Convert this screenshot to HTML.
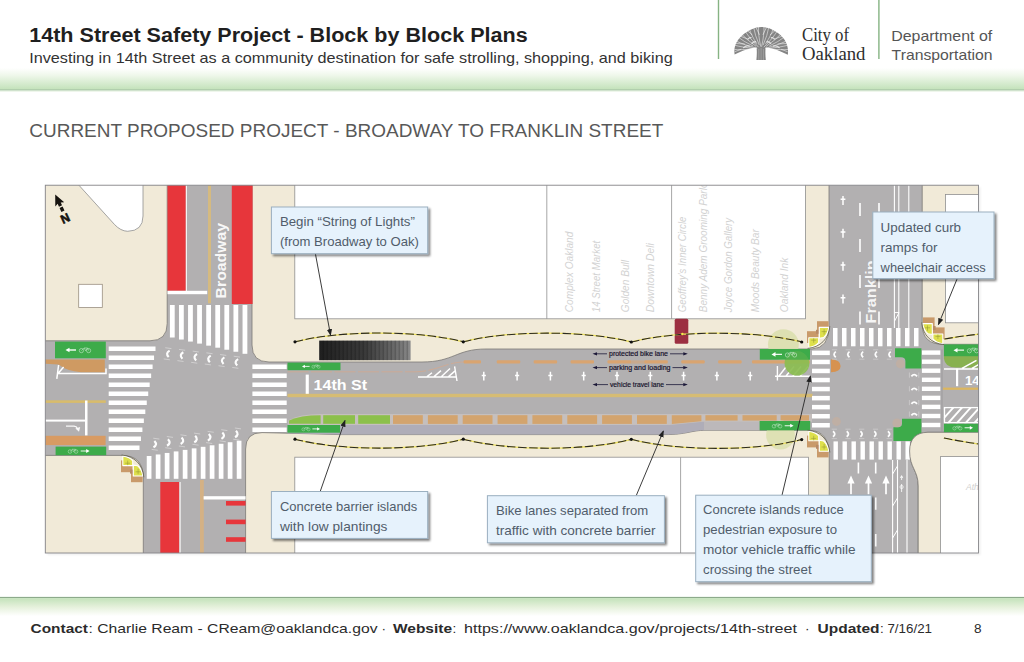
<!DOCTYPE html>
<html lang="en"><head><meta charset="utf-8"><title>14th Street Safety Project - Block by Block Plans</title>
<style>
html,body{margin:0;padding:0;background:#fff;}
body{width:1024px;height:662px;overflow:hidden;font-family:"Liberation Sans",sans-serif;}
svg{display:block;position:absolute;left:0;top:0;}
text{font-family:"Liberation Sans",sans-serif;}
.serif{font-family:"Liberation Serif",serif;}
.co{font-size:12.4px;fill:#515d6b;}
.bl{font-size:10.6px;font-style:italic;fill:#d2d2d2;}
.ll{font-size:6.7px;fill:#17132c;stroke:#17132c;stroke-width:0.18px;}
</style></head><body>
<svg width="1024" height="662" viewBox="0 0 1024 662">
<defs>
<linearGradient id="gTop" x1="0" y1="0" x2="0" y2="1"><stop offset="0" stop-color="#ffffff"/><stop offset="0.35" stop-color="#eef7ea"/><stop offset="1" stop-color="#c3e2ba"/></linearGradient>
<linearGradient id="gBot" x1="0" y1="0" x2="0" y2="1"><stop offset="0" stop-color="#c3e2ba"/><stop offset="0.5" stop-color="#e6f1dc"/><stop offset="1" stop-color="#ffffff"/></linearGradient>
<linearGradient id="gGrate" x1="0" y1="0" x2="1" y2="0"><stop offset="0" stop-color="#1f1f1f"/><stop offset="0.5" stop-color="#3a3a3a"/><stop offset="0.85" stop-color="#6e6e6e"/><stop offset="1" stop-color="#8a8a8a"/></linearGradient>
<filter id="sh" x="-10%" y="-10%" width="125%" height="135%"><feGaussianBlur in="SourceAlpha" stdDeviation="1.3"/><feOffset dx="2" dy="2"/><feComponentTransfer><feFuncA type="linear" slope="0.5"/></feComponentTransfer><feMerge><feMergeNode/><feMergeNode in="SourceGraphic"/></feMerge></filter>
<filter id="shm" x="-2%" y="-2%" width="104%" height="106%"><feGaussianBlur in="SourceAlpha" stdDeviation="1.2"/><feOffset dx="1.5" dy="1.5"/><feComponentTransfer><feFuncA type="linear" slope="0.07"/></feComponentTransfer><feMerge><feMergeNode/><feMergeNode in="SourceGraphic"/></feMerge></filter>
<marker id="ah" viewBox="0 0 10 10" refX="9" refY="5" markerWidth="7" markerHeight="7" orient="auto-start-reverse" markerUnits="userSpaceOnUse"><path d="M0,1.2 L10,5 L0,8.8 Z" fill="#222"/></marker>
<clipPath id="mapclip"><rect x="45.3" y="185.2" width="933.2" height="367.8"/></clipPath>
</defs>

<g id="header">
<rect x="0" y="68" width="1024" height="21.5" fill="url(#gTop)"/>
<rect x="0" y="89.3" width="1024" height="1.3" fill="#9dc099"/>
<rect x="0" y="90.6" width="1024" height="1" fill="#e4f1df"/>
<text x="29.2" y="42" font-size="20" font-weight="bold" fill="#1f1f1f" textLength="498.5" lengthAdjust="spacingAndGlyphs">14th Street Safety Project - Block by Block Plans</text>
<text x="29.2" y="62.5" font-size="14.6" fill="#333" textLength="643.5" lengthAdjust="spacingAndGlyphs">Investing in 14th Street as a community destination for safe strolling, shopping, and biking</text>
<rect x="717.8" y="0" width="1.4" height="59" fill="#86b383"/>
<rect x="878.2" y="0" width="1.4" height="59" fill="#86b383"/>
<text class="serif" x="802" y="41" font-size="18" fill="#2e2e2e" textLength="47" lengthAdjust="spacingAndGlyphs">City of</text>
<text class="serif" x="802" y="60" font-size="18" fill="#2e2e2e" textLength="63.5" lengthAdjust="spacingAndGlyphs">Oakland</text>
<text x="891.2" y="41" font-size="14.6" fill="#555" textLength="101" lengthAdjust="spacingAndGlyphs">Department of</text>
<text x="891.6" y="60" font-size="14.6" fill="#555" textLength="101" lengthAdjust="spacingAndGlyphs">Transportation</text>
<text x="29.3" y="137" font-size="18" fill="#585858" textLength="634" lengthAdjust="spacingAndGlyphs">CURRENT PROPOSED PROJECT - BROADWAY TO FRANKLIN STREET</text>
</g>
<g id="footer">
<rect x="0" y="596.2" width="1024" height="1" fill="#eef6ee"/>
<rect x="0" y="597" width="1024" height="1.1" fill="#8daa8b"/>
<rect x="0" y="598.1" width="1024" height="18" fill="url(#gBot)"/>
<text x="30.5" y="632.5" font-size="13.6" fill="#2b2b2b" font-weight="bold" textLength="57.5" lengthAdjust="spacingAndGlyphs">Contact</text>
<text x="88.5" y="632.5" font-size="13.6" fill="#2b2b2b" textLength="289" lengthAdjust="spacingAndGlyphs">: Charlie Ream - CReam@oaklandca.gov</text>
<text x="381.5" y="632.5" font-size="13.6" fill="#2b2b2b">·</text>
<text x="393" y="632.5" font-size="13.6" fill="#2b2b2b" font-weight="bold" textLength="59" lengthAdjust="spacingAndGlyphs">Website</text>
<text x="452.5" y="632.5" font-size="13.6" fill="#2b2b2b">:</text>
<text x="464" y="632.5" font-size="13.6" fill="#2b2b2b" textLength="333" lengthAdjust="spacingAndGlyphs">https://www.oaklandca.gov/projects/14th-street</text>
<text x="805" y="632.5" font-size="13.6" fill="#2b2b2b">·</text>
<text x="817.5" y="632.5" font-size="13.6" fill="#2b2b2b" font-weight="bold" textLength="62" lengthAdjust="spacingAndGlyphs">Updated</text>
<text x="880" y="632.5" font-size="13.6" fill="#2b2b2b" textLength="52" lengthAdjust="spacingAndGlyphs">: 7/16/21</text>
<text x="974" y="632.5" font-size="13.6" fill="#2b2b2b">8</text>
</g>
<g id="map">
<rect x="45.3" y="185.2" width="933.2" height="367.8" fill="#b2b0b1" filter="url(#shm)"/>
<g clip-path="url(#mapclip)">
<path d="M40,180 H167.2 V323.5 Q167.2,340.8 150,340.8 H40 Z" fill="#f1ead8" stroke="#7b7976" stroke-width="0.8"/>
<path d="M40,455.4 H122 Q143.3,455.4 143.3,478 V560 H40 Z" fill="#f1ead8" stroke="#7b7976" stroke-width="0.8"/>
<path d="M252,180 V345 Q252,362 269,362 H422 C454,362 456,349 486,349 H812 Q829,348 829,327 V180 Z" fill="#f1ead8" stroke="#7b7976" stroke-width="0.8"/>
<path d="M245.6,560 V449 Q245.6,432.6 262,432.6 L287,433.2 L340,434.6 H664 C688,434.6 690,430.3 706,430.3 H810 Q829.2,431 829.2,456 V560 Z" fill="#f1ead8" stroke="#7b7976" stroke-width="0.8"/>
<path d="M922.2,180 V325 Q922.5,344.3 943,344.3 H985 V180 Z" fill="#f1ead8" stroke="#7b7976" stroke-width="0.8"/>
<path d="M985,432.3 H928 C916,432.3 909.6,439 909.6,451 C909.6,468 918.2,470 918.2,486 V560 H985 Z" fill="#f1ead8" stroke="#7b7976" stroke-width="0.8"/>
<path d="M74.2,180 L114.6,224.6 Q120.6,231 127.6,231.3 Q143,231 143,216 V180 Z" fill="#ffffff" stroke="#8f8f8f" stroke-width="0.8"/>
<rect x="78.7" y="284.3" width="23.6" height="23.2" fill="#fff" stroke="#9a8f80" stroke-width="0.8"/>
<rect x="294.8" y="180" width="510.6" height="138.8" fill="#ffffff" stroke="#8f8f8f" stroke-width="0.8"/>
<path d="M546.8,185 V318.8 M671.6,185 V318.8" stroke="#8f8f8f" stroke-width="0.8" fill="none"/>
<rect x="294.8" y="457.2" width="513.6" height="110" fill="#ffffff" stroke="#8f8f8f" stroke-width="0.8"/>
<path d="M680.6,457.2 V553" stroke="#8f8f8f" stroke-width="0.8" fill="none"/>
<rect x="945.4" y="194.5" width="45" height="128.3" fill="#ffffff" stroke="#8f8f8f" stroke-width="0.8"/>
<rect x="940.4" y="456.6" width="45" height="110" fill="#ffffff" stroke="#8f8f8f" stroke-width="0.8"/>
<rect x="167.5" y="180" width="18.3" height="110.8" fill="#e7363b"/>
<rect x="231.8" y="180" width="20.8" height="124" fill="#e7363b"/>
<rect x="185.8" y="180" width="1.2" height="111" fill="#fff" opacity="0.85"/>
<rect x="167.5" y="290.8" width="39.7" height="3.4" fill="#fff"/>
<rect x="208" y="180" width="3" height="123.3" fill="#d5ba80"/>
<rect x="169.90" y="305" width="4.8" height="32.50" fill="#fff"/>
<rect x="178.98" y="305" width="4.8" height="34.54" fill="#fff"/>
<rect x="188.06" y="305" width="4.8" height="36.57" fill="#fff"/>
<rect x="197.14" y="305" width="4.8" height="38.61" fill="#fff"/>
<rect x="206.22" y="305" width="4.8" height="40.65" fill="#fff"/>
<rect x="215.30" y="305" width="4.8" height="42.69" fill="#fff"/>
<rect x="224.38" y="305" width="4.8" height="44.73" fill="#fff"/>
<rect x="233.46" y="305" width="4.8" height="46.76" fill="#fff"/>
<rect x="242.54" y="305" width="4.8" height="48.80" fill="#fff"/>
<rect x="108.7" y="346.50" width="46.80" height="4.5" fill="#fff"/>
<rect x="108.7" y="355.50" width="45.35" height="4.5" fill="#fff"/>
<rect x="108.7" y="364.50" width="43.89" height="4.5" fill="#fff"/>
<rect x="108.7" y="373.50" width="42.44" height="4.5" fill="#fff"/>
<rect x="108.7" y="382.50" width="40.98" height="4.5" fill="#fff"/>
<rect x="108.7" y="391.50" width="39.53" height="4.5" fill="#fff"/>
<rect x="108.7" y="400.50" width="38.07" height="4.5" fill="#fff"/>
<rect x="108.7" y="409.50" width="36.62" height="4.5" fill="#fff"/>
<rect x="108.7" y="418.50" width="35.16" height="4.5" fill="#fff"/>
<rect x="108.7" y="427.50" width="33.71" height="4.5" fill="#fff"/>
<rect x="108.7" y="436.50" width="32.25" height="4.5" fill="#fff"/>
<rect x="108.7" y="445.50" width="30.80" height="4.5" fill="#fff"/>
<rect x="252.4" y="364.50" width="34.3" height="4.5" fill="#fff"/>
<rect x="252.4" y="373.50" width="34.3" height="4.5" fill="#fff"/>
<rect x="252.4" y="382.50" width="34.3" height="4.5" fill="#fff"/>
<rect x="252.4" y="391.50" width="34.3" height="4.5" fill="#fff"/>
<rect x="252.4" y="400.50" width="34.3" height="4.5" fill="#fff"/>
<rect x="252.4" y="409.50" width="34.3" height="4.5" fill="#fff"/>
<rect x="252.4" y="418.50" width="34.3" height="4.5" fill="#fff"/>
<rect x="252.4" y="427.50" width="34.3" height="4.5" fill="#fff"/>
<rect x="146.75" y="456.00" width="4.7" height="22.80" fill="#fff"/>
<rect x="155.75" y="454.47" width="4.7" height="24.33" fill="#fff"/>
<rect x="164.75" y="452.94" width="4.7" height="25.86" fill="#fff"/>
<rect x="173.75" y="451.41" width="4.7" height="27.39" fill="#fff"/>
<rect x="182.75" y="449.88" width="4.7" height="28.92" fill="#fff"/>
<rect x="191.75" y="448.35" width="4.7" height="30.45" fill="#fff"/>
<rect x="200.75" y="446.82" width="4.7" height="31.98" fill="#fff"/>
<rect x="209.75" y="445.29" width="4.7" height="33.51" fill="#fff"/>
<rect x="218.75" y="443.76" width="4.7" height="35.04" fill="#fff"/>
<rect x="227.75" y="442.23" width="4.7" height="36.57" fill="#fff"/>
<rect x="236.75" y="440.70" width="4.7" height="38.10" fill="#fff"/>
<rect x="160.3" y="482" width="19" height="80" fill="#e7363b"/>
<rect x="179.4" y="482" width="1.3" height="80" fill="#fff" opacity="0.85"/>
<rect x="200" y="480" width="3.8" height="80" fill="#d4b184"/>
<rect x="203.6" y="496.2" width="42" height="3.3" fill="#fff"/>
<rect x="226" y="501" width="19.6" height="4.6" fill="#e7363b"/>
<rect x="226" y="519.6" width="19.6" height="4.6" fill="#e7363b"/>
<rect x="226" y="537.2" width="19.6" height="4.6" fill="#e7363b"/>
<rect x="55" y="341.6" width="50.8" height="16.7" fill="#3dab4a"/>
<path d="M45,359.6 H104.8 V372.2 H81 Q67,371.4 58.6,364.6 L45,363.8 Z" fill="#cf9a62"/>
<path d="M58.6,365 L56.8,378.8 M57.4,374.2 L63.6,367 M57.4,373.6 H106 V368.6" stroke="#fff" stroke-width="1.5" fill="none"/>
<rect x="45" y="400.3" width="60.8" height="2.6" fill="#d8bc6c"/>
<rect x="85" y="400.5" width="2.5" height="35" fill="#fff"/>
<rect x="45" y="419.6" width="41" height="2" fill="#fff"/>
<path d="M66,426.2 H74 Q76.6,426.4 77.4,428.4" stroke="#fff" stroke-width="1.3" fill="none" opacity="0.9"/><path d="M75.4,428.4 L79,431.8 L80.2,427 Z" fill="#fff" opacity="0.9"/>
<rect x="45" y="435.8" width="60.6" height="9.3" fill="#d89b63"/>
<rect x="55.6" y="446.6" width="50.6" height="8.6" fill="#3dab4a"/>
<path d="M287.5,424.6 H672 L704,421.4 V430.3 C690,430.3 688,434.6 664,434.6 H340 L287.5,433.2 Z" fill="#afadb8"/>
<rect x="704" y="421.4" width="56" height="8.9" fill="#bcb8ba"/>
<rect x="319.2" y="340.6" width="91.4" height="19.6" fill="url(#gGrate)"/>
<path d="M323.2,340.6 V360.2 M327.2,340.6 V360.2 M331.2,340.6 V360.2 M335.2,340.6 V360.2 M339.2,340.6 V360.2 M343.2,340.6 V360.2 M347.2,340.6 V360.2 M351.2,340.6 V360.2 M355.2,340.6 V360.2 M359.2,340.6 V360.2 M363.2,340.6 V360.2 M367.2,340.6 V360.2 M371.2,340.6 V360.2 M375.2,340.6 V360.2 M379.2,340.6 V360.2 M383.2,340.6 V360.2 M387.2,340.6 V360.2 M391.2,340.6 V360.2 M395.2,340.6 V360.2 M399.2,340.6 V360.2 M403.2,340.6 V360.2 M407.2,340.6 V360.2" stroke="#000" stroke-opacity="0.35" stroke-width="0.7" fill="none"/>
<rect x="287.5" y="362.6" width="53" height="7.6" fill="#3dab4a"/>
<rect x="287.5" y="425" width="52.6" height="7.7" fill="#3dab4a"/>
<path d="M287.5,371.8 H416 C436,371.4 446,362.2 464,362" stroke="#d3a98f" stroke-opacity="0.8" stroke-width="1" stroke-dasharray="21 2.5" fill="none"/>
<rect x="305.7" y="374.6" width="3.1" height="19.8" fill="#fff"/>
<text x="313.6" y="389.9" font-size="14.2" font-weight="bold" fill="#fff" textLength="53.5" lengthAdjust="spacingAndGlyphs">14th St</text>
<rect x="287.5" y="393.8" width="525" height="3.4" fill="#d6bc74"/>
<path d="M288.2,425 V420.4 Q300,414 320,414 H702 V414 H812 V421.8 H703 L670,425 Z" fill="#c5bfbd"/>
<path d="M289,423.8 V420.5 Q300,415.2 320.6,415.2 V423.8 Z" fill="#8cc04b" />
<rect x="323.2" y="415.2" width="31.8" height="8.6" fill="#8cc04b" />
<rect x="358.2" y="415.2" width="31.8" height="8.6" fill="#8cc04b" />
<rect x="393.0" y="415.2" width="29.8" height="8.7" fill="#d3a46e" />
<rect x="427.9" y="415.2" width="29.8" height="8.7" fill="#d3a46e" />
<rect x="462.7" y="415.2" width="29.8" height="8.7" fill="#d3a46e" />
<rect x="497.6" y="415.2" width="29.8" height="8.7" fill="#d3a46e" />
<rect x="532.4" y="415.2" width="29.8" height="8.7" fill="#d3a46e" />
<rect x="567.3" y="415.2" width="29.8" height="8.7" fill="#d3a46e" />
<rect x="602.1" y="415.2" width="29.8" height="8.7" fill="#d3a46e" />
<rect x="637.0" y="415.2" width="29.8" height="8.7" fill="#d3a46e" />
<path d="M671.8,415.2 H701.4 V421.2 L671.8,423.9 Z" fill="#d3a46e" />
<rect x="705.4" y="415.2" width="32.2" height="5.4" fill="#d3a46e" />
<rect x="742.5" y="415.2" width="34.2" height="5.4" fill="#d3a46e" />
<rect x="780.6" y="415.2" width="28.4" height="5.4" fill="#d3a46e" />
<rect x="463.6" y="360.2" width="17.4" height="3.2" rx="1" fill="#d9a470"/>
<rect x="496.8" y="360.2" width="23.4" height="3.2" rx="1" fill="#d9a470"/>
<rect x="533.7" y="360.2" width="23.4" height="3.2" rx="1" fill="#d9a470"/>
<rect x="570.6" y="360.2" width="23.4" height="3.2" rx="1" fill="#d9a470"/>
<rect x="607.5" y="360.2" width="23.4" height="3.2" rx="1" fill="#d9a470"/>
<rect x="644.4" y="360.2" width="23.4" height="3.2" rx="1" fill="#d9a470"/>
<rect x="681.3" y="360.2" width="23.4" height="3.2" rx="1" fill="#d9a470"/>
<rect x="718.2" y="360.2" width="23.4" height="3.2" rx="1" fill="#d9a470"/>
<rect x="752" y="360.2" width="58" height="3.2" rx="1" fill="#d9a470"/>
<rect x="630" y="360.4" width="15" height="3.2" fill="#d9a470" opacity="0.55"/>
<path d="M483.8,371.8 V380.6 M481.7,375.6 H485.9 M517.1,371.8 V380.6 M515.0,375.6 H519.2 M550.4,371.8 V380.6 M548.3,375.6 H552.5 M583.7,371.8 V380.6 M581.6,375.6 H585.8 M617.0,371.8 V380.6 M614.9,375.6 H619.1 M650.3,371.8 V380.6 M648.2,375.6 H652.4 M683.6,371.8 V380.6 M681.5,375.6 H685.7 M716.9,371.8 V380.6 M714.8,375.6 H719.0 M750.2,371.8 V380.6 M748.1,375.6 H752.3" stroke="#fff" stroke-width="1.5" fill="none"/>
<path d="M418,377 H456.4 M454.6,366.4 L457,381 M427,376.6 L432,372.8 M434,376.6 L441,370.6 M441.5,376.6 L450,368.6 M448.5,376.6 L455.4,370.6" stroke="#fff" stroke-width="1.4" fill="none"/>
<rect x="674.7" y="318.8" width="13.6" height="25" rx="1.5" fill="#9c2f41"/>
<path d="M596.5,353.8 H607 M670,353.8 H683.8" stroke="#1c1838" stroke-width="0.8" fill="none"/>
<path d="M592.5,353.8 l4.5,-1.6 v3.2 Z M687.8,353.8 l-4.5,-1.6 v3.2 Z" fill="#1c1838"/>
<text class="ll" x="609" y="356.0" textLength="59" lengthAdjust="spacingAndGlyphs">protected bike lane</text>
<path d="M596.5,367.6 H607 M672.5,367.6 H683.8" stroke="#1c1838" stroke-width="0.8" fill="none"/>
<path d="M592.5,367.6 l4.5,-1.6 v3.2 Z M687.8,367.6 l-4.5,-1.6 v3.2 Z" fill="#1c1838"/>
<text class="ll" x="609" y="369.8" textLength="61.5" lengthAdjust="spacingAndGlyphs">parking and loading</text>
<path d="M596.5,384.6 H608 M666,384.6 H683.8" stroke="#1c1838" stroke-width="0.8" fill="none"/>
<path d="M592.5,384.6 l4.5,-1.6 v3.2 Z M687.8,384.6 l-4.5,-1.6 v3.2 Z" fill="#1c1838"/>
<text class="ll" x="610" y="386.8" textLength="54" lengthAdjust="spacingAndGlyphs">vehicle travel lane</text>
<circle cx="783.4" cy="344.6" r="15.4" fill="#dadfae" opacity="0.9"/>
<circle cx="780.5" cy="435" r="14.4" fill="#dadfae" opacity="0.85"/>
<rect x="759.6" y="421" width="50.6" height="9.3" fill="#3dab4a"/>
<path d="M777.4,366 V380.6 M775,376.2 H810 M779,376 L786,367 M786,376 L794,366.5 M793,376 L801,366.5 M800,376 L808,366.5" stroke="#fff" stroke-width="1.4" fill="none"/>
<circle cx="797" cy="363.2" r="12.4" fill="#8bbd50" opacity="0.92"/>
<rect x="759.8" y="349" width="50.2" height="10.7" fill="#3dab4a"/>
<path d="M785.2,359.7 A12.4,12.4 0 0 1 808.8,359.7 Z" fill="#8bbd50" opacity="0.25"/>
<rect x="833.0" y="328" width="4.5" height="18.3" fill="#fff"/>
<rect x="842.0" y="328" width="4.5" height="18.3" fill="#fff"/>
<rect x="851.0" y="328" width="4.5" height="18.3" fill="#fff"/>
<rect x="860.0" y="328" width="4.5" height="18.3" fill="#fff"/>
<rect x="869.0" y="328" width="4.5" height="18.3" fill="#fff"/>
<rect x="878.0" y="328" width="4.5" height="18.3" fill="#fff"/>
<rect x="887.0" y="328" width="4.5" height="18.3" fill="#fff"/>
<rect x="896.0" y="328" width="4.5" height="18.3" fill="#fff"/>
<rect x="905.0" y="328" width="4.5" height="18.3" fill="#fff"/>
<rect x="914.0" y="328" width="4.5" height="18.3" fill="#fff"/>
<rect x="833.5" y="441.4" width="4.4" height="18.2" fill="#fff"/>
<rect x="842.5" y="441.4" width="4.4" height="18.2" fill="#fff"/>
<rect x="851.5" y="441.4" width="4.4" height="18.2" fill="#fff"/>
<rect x="860.5" y="441.4" width="4.4" height="18.2" fill="#fff"/>
<rect x="869.5" y="441.4" width="4.4" height="18.2" fill="#fff"/>
<rect x="878.5" y="441.4" width="4.4" height="18.2" fill="#fff"/>
<rect x="887.5" y="441.4" width="4.4" height="18.2" fill="#fff"/>
<rect x="896.5" y="441.4" width="4.4" height="18.2" fill="#fff"/>
<rect x="905.5" y="441.4" width="4.4" height="18.2" fill="#fff"/>
<rect x="812" y="350.6" width="17.8" height="4.5" fill="#fff"/>
<rect x="921.9" y="350.4" width="18.4" height="4.4" fill="#fff"/>
<rect x="812" y="359.7" width="17.8" height="4.5" fill="#fff"/>
<rect x="921.9" y="359.5" width="18.4" height="4.4" fill="#fff"/>
<rect x="812" y="368.7" width="17.8" height="4.5" fill="#fff"/>
<rect x="921.9" y="368.5" width="18.4" height="4.4" fill="#fff"/>
<rect x="812" y="377.8" width="17.8" height="4.5" fill="#fff"/>
<rect x="921.9" y="377.6" width="18.4" height="4.4" fill="#fff"/>
<rect x="812" y="386.8" width="17.8" height="4.5" fill="#fff"/>
<rect x="921.9" y="386.6" width="18.4" height="4.4" fill="#fff"/>
<rect x="812" y="395.9" width="17.8" height="4.5" fill="#fff"/>
<rect x="921.9" y="395.7" width="18.4" height="4.4" fill="#fff"/>
<rect x="812" y="404.9" width="17.8" height="4.5" fill="#fff"/>
<rect x="921.9" y="404.7" width="18.4" height="4.4" fill="#fff"/>
<rect x="812" y="414.0" width="17.8" height="4.5" fill="#fff"/>
<rect x="921.9" y="413.8" width="18.4" height="4.4" fill="#fff"/>
<rect x="812" y="423.0" width="17.8" height="4.5" fill="#fff"/>
<rect x="921.9" y="422.8" width="18.4" height="4.4" fill="#fff"/>
<path d="M895,348.2 H921.4 V368.6 H905.4 V361 Q905.4,357.2 901,357.2 H895 Z" fill="#3dab4a"/>
<path d="M902,418.8 H921.4 V441 H893.4 V427.2 H898 Q902,427.2 902,423.4 Z" fill="#3dab4a"/>
<path d="M985,432.3 H928 C916,432.3 909.6,439 909.6,451 C909.6,468 918.2,470 918.2,486 V560 H985 Z" fill="#f1ead8" stroke="#7b7976" stroke-width="0.8"/>
<rect x="940.4" y="456.6" width="45" height="110" fill="#ffffff" stroke="#8f8f8f" stroke-width="0.8"/>
<path d="M942,349.5 V432" stroke="#9b999b" stroke-width="1" fill="none"/>
<path d="M831,359.2 Q840.6,360 840.6,366 Q840.6,371.8 831,372.2 Z" fill="#d98f48" opacity="0.92"/>
<circle cx="900.5" cy="363.8" r="4.6" fill="#dcae8c" opacity="0.33"/>
<circle cx="836.5" cy="421.5" r="4.4" fill="#dcae8c" opacity="0.33"/>
<circle cx="897" cy="423" r="4.6" fill="#dcae8c" opacity="0.33"/>
<path d="M843,196.0 V205.0 M840.6,199.3 H845.4 M843,228.8 V237.8 M840.6,232.10000000000002 H845.4 M843,261.7 V270.7 M840.6,265.0 H845.4 M843,294.5 V303.5 M840.6,297.8 H845.4" stroke="#fff" stroke-width="1.5" fill="none"/>
<path d="M860,203 V216 M879,203 V216 M860,239 V252 M879,239 V252 M860,275 V288 M879,275 V288 M860,311.5 V324.5 M879,311.5 V324.5" stroke="#fff" stroke-width="1.6" fill="none"/>
<path d="M894.4,185 V328 M898.8,185 V328 M908.8,185 V328" stroke="#fff" stroke-width="1.1" fill="none"/>
<path d="M894.6,312.6 H899 L894.6,321" stroke="#fff" stroke-width="1" fill="none"/>
<text transform="translate(876.4,323.4) rotate(-90)" font-size="14.6" font-weight="bold" fill="#fff" fill-opacity="0.88" textLength="63" lengthAdjust="spacingAndGlyphs">Franklin</text>
<path d="M892.6,460 V553 M897.5,460 V553 M907,460 V553" stroke="#fff" stroke-width="1.1" fill="none"/>
<path d="M897.5,466 L892.6,474 M897.5,498 L892.6,506 M897.5,530 L892.6,538" stroke="#fff" stroke-width="1" fill="none"/>
<path d="M858.4,462.6 V473.5 M875.7,462.6 V473.5 M875.7,497.6 V509.8 M875.7,534 V546.4" stroke="#fff" stroke-width="1.6" fill="none"/>
<path d="M851,494.2 V481" stroke="#fff" stroke-width="1.7" fill="none"/><path d="M847.4,483.6 L851,475.6 L854.6,483.6 Z" fill="#fff"/>
<path d="M868.5,494.2 V481" stroke="#fff" stroke-width="1.7" fill="none"/><path d="M864.9,483.6 L868.5,475.6 L872.1,483.6 Z" fill="#fff"/>
<path d="M886,494.2 V481" stroke="#fff" stroke-width="1.7" fill="none"/><path d="M882.4,483.6 L886,475.6 L889.6,483.6 Z" fill="#fff"/>
<path d="M901.6,476 V480 M900.4,478 L901.6,475.6 L902.8,478 M901.6,484 V492" stroke="#fff" stroke-width="0.9" fill="none" opacity="0.9"/><circle cx="901.6" cy="487" r="1.6" fill="none" stroke="#fff" stroke-width="0.7"/>
<path d="M943.9,355 V358.5 Q945,367.6 956,367.6 H983 V355 Z" fill="#88b150"/>
<rect x="943.9" y="344.4" width="40" height="11.8" fill="#3dab4a"/>
<path d="M944,369 H983 M962,368.4 L976.5,360.4 M972,368.4 L984,361.6" stroke="#fff" stroke-width="1.6" fill="none"/>
<rect x="956" y="368.6" width="2.2" height="17.6" fill="#fff"/>
<text x="965" y="385.4" font-size="13.2" font-weight="bold" fill="#fff">14th</text>
<rect x="943" y="387.6" width="40" height="2.2" fill="#dcb65e"/>
<clipPath id="hb"><rect x="943.9" y="407" width="40" height="16.2"/></clipPath>
<path d="M930.0,424 L946.0,406 M938.7,424 L954.7,406 M947.4,424 L963.4,406 M956.1,424 L972.1,406 M964.8,424 L980.8,406 M973.5,424 L989.5,406 M982.2,424 L998.2,406 M990.9,424 L1006.9,406" stroke="#fff" stroke-width="1.9" fill="none" clip-path="url(#hb)"/>
<rect x="944.5" y="407.6" width="40" height="15" fill="none" stroke="#fff" stroke-width="1.3"/>
<rect x="943.9" y="423.8" width="40" height="8.4" fill="#3dab4a"/>
<g transform="translate(829.6,348.2) scale(-1,-1)">
<rect x="11" y="5.2" width="11.6" height="11.8" fill="#c99a6a"/>
<rect x="1" y="15.6" width="11.6" height="11.4" fill="#c99a6a"/>
<rect x="9.6" y="14.4" width="4" height="4" fill="#b78a66"/>
<path d="M20.8,0.7 V10.4 H10.9 V5.6 Q13.6,2 20.8,0.7 Z" fill="#dee04c" stroke="#fff" stroke-width="1.1" stroke-linejoin="round"/>
<path d="M0.7,20.8 H10.3 V9.9 L6,10.6 Q2,13.6 0.7,20.8 Z" fill="#dee04c" stroke="#fff" stroke-width="1.1" stroke-linejoin="round"/>
<path d="M13.4,8 H18.4 M15.9,5.4 V10 M3,16.6 H8 M5.5,13.6 V19" stroke="#8d9330" stroke-width="0.5" fill="none"/>
<path d="M-0.2,22 C0.6,9.4 9.4,0.8 22,-0.2" stroke="#5e5c4c" stroke-width="0.8" fill="none"/>
</g>
<g transform="translate(829.6,430.4) scale(-1,1)">
<rect x="11" y="5.2" width="11.6" height="11.8" fill="#c99a6a"/>
<rect x="1" y="15.6" width="11.6" height="11.4" fill="#c99a6a"/>
<rect x="9.6" y="14.4" width="4" height="4" fill="#b78a66"/>
<path d="M20.8,0.7 V10.4 H10.9 V5.6 Q13.6,2 20.8,0.7 Z" fill="#dee04c" stroke="#fff" stroke-width="1.1" stroke-linejoin="round"/>
<path d="M0.7,20.8 H10.3 V9.9 L6,10.6 Q2,13.6 0.7,20.8 Z" fill="#dee04c" stroke="#fff" stroke-width="1.1" stroke-linejoin="round"/>
<path d="M13.4,8 H18.4 M15.9,5.4 V10 M3,16.6 H8 M5.5,13.6 V19" stroke="#8d9330" stroke-width="0.5" fill="none"/>
<path d="M-0.2,22 C0.6,9.4 9.4,0.8 22,-0.2" stroke="#5e5c4c" stroke-width="0.8" fill="none"/>
</g>
<g transform="translate(922,344.4) scale(1,-1)">
<rect x="11" y="5.2" width="11.6" height="11.8" fill="#c99a6a"/>
<rect x="1" y="15.6" width="11.6" height="11.4" fill="#c99a6a"/>
<rect x="9.6" y="14.4" width="4" height="4" fill="#b78a66"/>
<path d="M20.8,0.7 V10.4 H10.9 V5.6 Q13.6,2 20.8,0.7 Z" fill="#dee04c" stroke="#fff" stroke-width="1.1" stroke-linejoin="round"/>
<path d="M0.7,20.8 H10.3 V9.9 L6,10.6 Q2,13.6 0.7,20.8 Z" fill="#dee04c" stroke="#fff" stroke-width="1.1" stroke-linejoin="round"/>
<path d="M13.4,8 H18.4 M15.9,5.4 V10 M3,16.6 H8 M5.5,13.6 V19" stroke="#8d9330" stroke-width="0.5" fill="none"/>
<path d="M-0.2,22 C0.6,9.4 9.4,0.8 22,-0.2" stroke="#5e5c4c" stroke-width="0.8" fill="none"/>
</g>
<g transform="translate(143.6,455.2) scale(-1,1)">
<rect x="11" y="5.2" width="11.6" height="11.8" fill="#c99a6a"/>
<rect x="1" y="15.6" width="11.6" height="11.4" fill="#c99a6a"/>
<rect x="9.6" y="14.4" width="4" height="4" fill="#b78a66"/>
<path d="M20.8,0.7 V10.4 H10.9 V5.6 Q13.6,2 20.8,0.7 Z" fill="#dee04c" stroke="#fff" stroke-width="1.1" stroke-linejoin="round"/>
<path d="M0.7,20.8 H10.3 V9.9 L6,10.6 Q2,13.6 0.7,20.8 Z" fill="#dee04c" stroke="#fff" stroke-width="1.1" stroke-linejoin="round"/>
<path d="M13.4,8 H18.4 M15.9,5.4 V10 M3,16.6 H8 M5.5,13.6 V19" stroke="#8d9330" stroke-width="0.5" fill="none"/>
<path d="M-0.2,22 C0.6,9.4 9.4,0.8 22,-0.2" stroke="#5e5c4c" stroke-width="0.8" fill="none"/>
</g>
<path d="M76.0,350.0 H68.0" stroke="#fff" stroke-width="1.30" fill="none" opacity="0.9"/><path d="M65.5,350.0 l4.0,-2.3 v4.6 Z" fill="#fff"/>
<g stroke="#fff" stroke-width="0.70" fill="none" opacity="0.62"><circle cx="81.4" cy="350.6" r="2.1"/><circle cx="88.6" cy="350.6" r="2.1"/><path d="M81.4,350.6 L84.2,348.0 H87.6 L88.6,350.6 M84.2,348.0 L85.6,350.8 L87.6,348.0"/></g>
<path d="M80.7,451.0 H87.5" stroke="#fff" stroke-width="1.10" fill="none" opacity="0.9"/><path d="M89.6,451.0 l-3.4,-2.0 v3.9 Z" fill="#fff"/>
<g stroke="#fff" stroke-width="0.59" fill="none" opacity="0.62"><circle cx="70.0" cy="451.5" r="1.8"/><circle cx="76.1" cy="451.5" r="1.8"/><path d="M70.0,451.5 L72.4,449.3 H75.3 L76.1,451.5 M72.4,449.3 L73.6,451.7 L75.3,449.3"/></g>
<path d="M309.6,366.4 H303.8" stroke="#fff" stroke-width="0.94" fill="none" opacity="0.9"/><path d="M302.0,366.4 l2.9,-1.7 v3.3 Z" fill="#fff"/>
<g stroke="#fff" stroke-width="0.50" fill="none" opacity="0.62"><circle cx="313.4" cy="366.8" r="1.5"/><circle cx="318.6" cy="366.8" r="1.5"/><path d="M313.4,366.8 L315.5,365.0 H317.9 L318.6,366.8 M315.5,365.0 L316.5,367.0 L317.9,365.0"/></g>
<path d="M312.4,428.9 H318.2" stroke="#fff" stroke-width="0.94" fill="none" opacity="0.9"/><path d="M320.0,428.9 l-2.9,-1.7 v3.3 Z" fill="#fff"/>
<g stroke="#fff" stroke-width="0.50" fill="none" opacity="0.62"><circle cx="303.4" cy="429.3" r="1.5"/><circle cx="308.6" cy="429.3" r="1.5"/><path d="M303.4,429.3 L305.4,427.5 H307.8 L308.6,429.3 M305.4,427.5 L306.4,429.5 L307.8,427.5"/></g>
<path d="M782.0,354.4 H774.0" stroke="#fff" stroke-width="1.30" fill="none" opacity="0.9"/><path d="M771.5,354.4 l4.0,-2.3 v4.6 Z" fill="#fff"/>
<g stroke="#fff" stroke-width="0.70" fill="none" opacity="0.62"><circle cx="787.4" cy="355.0" r="2.1"/><circle cx="794.6" cy="355.0" r="2.1"/><path d="M787.4,355.0 L790.2,352.4 H793.6 L794.6,355.0 M790.2,352.4 L791.6,355.2 L793.6,352.4"/></g>
<path d="M784.7,425.7 H791.5" stroke="#fff" stroke-width="1.10" fill="none" opacity="0.9"/><path d="M793.6,425.7 l-3.4,-2.0 v3.9 Z" fill="#fff"/>
<g stroke="#fff" stroke-width="0.59" fill="none" opacity="0.62"><circle cx="774.0" cy="426.2" r="1.8"/><circle cx="780.1" cy="426.2" r="1.8"/><path d="M774.0,426.2 L776.4,424.0 H779.3 L780.1,426.2 M776.4,424.0 L777.6,426.4 L779.3,424.0"/></g>
<path d="M964.0,350.2 H956.0" stroke="#fff" stroke-width="1.30" fill="none" opacity="0.9"/><path d="M953.5,350.2 l4.0,-2.3 v4.6 Z" fill="#fff"/>
<g stroke="#fff" stroke-width="0.70" fill="none" opacity="0.62"><circle cx="969.4" cy="350.8" r="2.1"/><circle cx="976.6" cy="350.8" r="2.1"/><path d="M969.4,350.8 L972.2,348.2 H975.6 L976.6,350.8 M972.2,348.2 L973.6,351.0 L975.6,348.2"/></g>
<path d="M964.6,427.8 H971.0" stroke="#fff" stroke-width="1.04" fill="none" opacity="0.9"/><path d="M973.0,427.8 l-3.2,-1.8 v3.7 Z" fill="#fff"/>
<g stroke="#fff" stroke-width="0.56" fill="none" opacity="0.62"><circle cx="954.5" cy="428.3" r="1.7"/><circle cx="960.3" cy="428.3" r="1.7"/><path d="M954.5,428.3 L956.8,426.2 H959.5 L960.3,428.3 M956.8,426.2 L957.9,428.4 L959.5,426.2"/></g>
<g transform="translate(167.5,353.6) rotate(8)" stroke="#fff" fill="none"><path d="M1.7,-3.3 Q-2.5,0 1.7,3.3" stroke-width="2.18" opacity="0.97"/><path d="M-3.0,-5.5 H3.2 M-3.0,5.8 H3.2" stroke-width="0.80" opacity="0.45"/></g>
<g transform="translate(181.2,355.3) rotate(8)" stroke="#fff" fill="none"><path d="M1.7,-3.3 Q-2.5,0 1.7,3.3" stroke-width="2.18" opacity="0.97"/><path d="M-3.0,-5.5 H3.2 M-3.0,5.8 H3.2" stroke-width="0.80" opacity="0.45"/></g>
<g transform="translate(194.9,357.0) rotate(8)" stroke="#fff" fill="none"><path d="M1.7,-3.3 Q-2.5,0 1.7,3.3" stroke-width="2.18" opacity="0.97"/><path d="M-3.0,-5.5 H3.2 M-3.0,5.8 H3.2" stroke-width="0.80" opacity="0.45"/></g>
<g transform="translate(208.6,358.7) rotate(8)" stroke="#fff" fill="none"><path d="M1.7,-3.3 Q-2.5,0 1.7,3.3" stroke-width="2.18" opacity="0.97"/><path d="M-3.0,-5.5 H3.2 M-3.0,5.8 H3.2" stroke-width="0.80" opacity="0.45"/></g>
<g transform="translate(222.3,360.4) rotate(8)" stroke="#fff" fill="none"><path d="M1.7,-3.3 Q-2.5,0 1.7,3.3" stroke-width="2.18" opacity="0.97"/><path d="M-3.0,-5.5 H3.2 M-3.0,5.8 H3.2" stroke-width="0.80" opacity="0.45"/></g>
<g transform="translate(236.0,362.1) rotate(8)" stroke="#fff" fill="none"><path d="M1.7,-3.3 Q-2.5,0 1.7,3.3" stroke-width="2.18" opacity="0.97"/><path d="M-3.0,-5.5 H3.2 M-3.0,5.8 H3.2" stroke-width="0.80" opacity="0.45"/></g>
<g transform="translate(155.6,444.4) rotate(188)" stroke="#fff" fill="none"><path d="M1.7,-3.3 Q-2.5,0 1.7,3.3" stroke-width="2.18" opacity="0.97"/><path d="M-3.0,-5.5 H3.2 M-3.0,5.8 H3.2" stroke-width="0.80" opacity="0.45"/></g>
<g transform="translate(169.2,442.7) rotate(188)" stroke="#fff" fill="none"><path d="M1.7,-3.3 Q-2.5,0 1.7,3.3" stroke-width="2.18" opacity="0.97"/><path d="M-3.0,-5.5 H3.2 M-3.0,5.8 H3.2" stroke-width="0.80" opacity="0.45"/></g>
<g transform="translate(182.8,441.0) rotate(188)" stroke="#fff" fill="none"><path d="M1.7,-3.3 Q-2.5,0 1.7,3.3" stroke-width="2.18" opacity="0.97"/><path d="M-3.0,-5.5 H3.2 M-3.0,5.8 H3.2" stroke-width="0.80" opacity="0.45"/></g>
<g transform="translate(196.4,439.3) rotate(188)" stroke="#fff" fill="none"><path d="M1.7,-3.3 Q-2.5,0 1.7,3.3" stroke-width="2.18" opacity="0.97"/><path d="M-3.0,-5.5 H3.2 M-3.0,5.8 H3.2" stroke-width="0.80" opacity="0.45"/></g>
<g transform="translate(210.0,437.6) rotate(188)" stroke="#fff" fill="none"><path d="M1.7,-3.3 Q-2.5,0 1.7,3.3" stroke-width="2.18" opacity="0.97"/><path d="M-3.0,-5.5 H3.2 M-3.0,5.8 H3.2" stroke-width="0.80" opacity="0.45"/></g>
<g transform="translate(223.6,435.9) rotate(188)" stroke="#fff" fill="none"><path d="M1.7,-3.3 Q-2.5,0 1.7,3.3" stroke-width="2.18" opacity="0.97"/><path d="M-3.0,-5.5 H3.2 M-3.0,5.8 H3.2" stroke-width="0.80" opacity="0.45"/></g>
<g transform="translate(237.2,434.2) rotate(188)" stroke="#fff" fill="none"><path d="M1.7,-3.3 Q-2.5,0 1.7,3.3" stroke-width="2.18" opacity="0.97"/><path d="M-3.0,-5.5 H3.2 M-3.0,5.8 H3.2" stroke-width="0.80" opacity="0.45"/></g>
<g transform="translate(834.4,354.4) rotate(0)" stroke="#fff" fill="none"><path d="M1.4,-2.8 Q-2.1,0 1.4,2.8" stroke-width="1.80" opacity="0.97"/><path d="M-2.5,-4.6 H2.7 M-2.5,4.8 H2.7" stroke-width="0.66" opacity="0.45"/></g>
<g transform="translate(834.4,434.0) rotate(180)" stroke="#fff" fill="none"><path d="M1.4,-2.8 Q-2.1,0 1.4,2.8" stroke-width="1.80" opacity="0.97"/><path d="M-2.5,-4.6 H2.7 M-2.5,4.8 H2.7" stroke-width="0.66" opacity="0.45"/></g>
<g transform="translate(848.1,354.4) rotate(0)" stroke="#fff" fill="none"><path d="M1.4,-2.8 Q-2.1,0 1.4,2.8" stroke-width="1.80" opacity="0.97"/><path d="M-2.5,-4.6 H2.7 M-2.5,4.8 H2.7" stroke-width="0.66" opacity="0.45"/></g>
<g transform="translate(848.1,434.0) rotate(180)" stroke="#fff" fill="none"><path d="M1.4,-2.8 Q-2.1,0 1.4,2.8" stroke-width="1.80" opacity="0.97"/><path d="M-2.5,-4.6 H2.7 M-2.5,4.8 H2.7" stroke-width="0.66" opacity="0.45"/></g>
<g transform="translate(861.8,354.4) rotate(0)" stroke="#fff" fill="none"><path d="M1.4,-2.8 Q-2.1,0 1.4,2.8" stroke-width="1.80" opacity="0.97"/><path d="M-2.5,-4.6 H2.7 M-2.5,4.8 H2.7" stroke-width="0.66" opacity="0.45"/></g>
<g transform="translate(861.8,434.0) rotate(180)" stroke="#fff" fill="none"><path d="M1.4,-2.8 Q-2.1,0 1.4,2.8" stroke-width="1.80" opacity="0.97"/><path d="M-2.5,-4.6 H2.7 M-2.5,4.8 H2.7" stroke-width="0.66" opacity="0.45"/></g>
<g transform="translate(875.6,354.4) rotate(0)" stroke="#fff" fill="none"><path d="M1.4,-2.8 Q-2.1,0 1.4,2.8" stroke-width="1.80" opacity="0.97"/><path d="M-2.5,-4.6 H2.7 M-2.5,4.8 H2.7" stroke-width="0.66" opacity="0.45"/></g>
<g transform="translate(875.6,434.0) rotate(180)" stroke="#fff" fill="none"><path d="M1.4,-2.8 Q-2.1,0 1.4,2.8" stroke-width="1.80" opacity="0.97"/><path d="M-2.5,-4.6 H2.7 M-2.5,4.8 H2.7" stroke-width="0.66" opacity="0.45"/></g>
<g transform="translate(889.3,354.4) rotate(0)" stroke="#fff" fill="none"><path d="M1.4,-2.8 Q-2.1,0 1.4,2.8" stroke-width="1.80" opacity="0.97"/><path d="M-2.5,-4.6 H2.7 M-2.5,4.8 H2.7" stroke-width="0.66" opacity="0.45"/></g>
<g transform="translate(889.3,434.0) rotate(180)" stroke="#fff" fill="none"><path d="M1.4,-2.8 Q-2.1,0 1.4,2.8" stroke-width="1.80" opacity="0.97"/><path d="M-2.5,-4.6 H2.7 M-2.5,4.8 H2.7" stroke-width="0.66" opacity="0.45"/></g>
<g transform="translate(914.2,375.0) rotate(90)" stroke="#fff" fill="none"><path d="M1.4,-2.8 Q-2.1,0 1.4,2.8" stroke-width="1.80" opacity="0.97"/><path d="M-2.5,-4.6 H2.7 M-2.5,4.8 H2.7" stroke-width="0.66" opacity="0.45"/></g>
<g transform="translate(914.2,388.7) rotate(90)" stroke="#fff" fill="none"><path d="M1.4,-2.8 Q-2.1,0 1.4,2.8" stroke-width="1.80" opacity="0.97"/><path d="M-2.5,-4.6 H2.7 M-2.5,4.8 H2.7" stroke-width="0.66" opacity="0.45"/></g>
<g transform="translate(914.2,402.5) rotate(90)" stroke="#fff" fill="none"><path d="M1.4,-2.8 Q-2.1,0 1.4,2.8" stroke-width="1.80" opacity="0.97"/><path d="M-2.5,-4.6 H2.7 M-2.5,4.8 H2.7" stroke-width="0.66" opacity="0.45"/></g>
<g transform="translate(914.2,414.0) rotate(90)" stroke="#fff" fill="none"><path d="M1.4,-2.8 Q-2.1,0 1.4,2.8" stroke-width="1.80" opacity="0.97"/><path d="M-2.5,-4.6 H2.7 M-2.5,4.8 H2.7" stroke-width="0.66" opacity="0.45"/></g>
<path d="M295.0,341.8 C340.4,330.1 417.9,330.1 463.3,341.8 M463.3,341.8 C508.7,330.1 585.9,330.3 631.3,342.0 M631.3,342.0 C677.3,330.3 755.7,330.3 801.7,342.0" stroke="#efe25e" stroke-width="1.3" fill="none"/>
<path d="M295.0,341.8 C340.4,330.1 417.9,330.1 463.3,341.8 M463.3,341.8 C508.7,330.1 585.9,330.3 631.3,342.0 M631.3,342.0 C677.3,330.3 755.7,330.3 801.7,342.0" stroke="#2b2922" stroke-width="1.05" stroke-dasharray="8.5 2.6" fill="none"/>
<circle cx="295.0" cy="341.8" r="1.6" fill="#111"/>
<circle cx="463.3" cy="341.8" r="1.6" fill="#111"/>
<circle cx="631.3" cy="342.0" r="1.6" fill="#111"/>
<circle cx="801.7" cy="342.0" r="1.6" fill="#111"/>
<path d="M295.0,439.2 C340.4,451.1 417.9,451.1 463.3,439.2 M463.3,439.2 C508.7,451.1 585.9,451.2 631.3,439.3 M631.3,439.3 C677.3,451.2 755.7,451.5 801.7,439.6" stroke="#efe25e" stroke-width="1.3" fill="none"/>
<path d="M295.0,439.2 C340.4,451.1 417.9,451.1 463.3,439.2 M463.3,439.2 C508.7,451.1 585.9,451.2 631.3,439.3 M631.3,439.3 C677.3,451.2 755.7,451.5 801.7,439.6" stroke="#2b2922" stroke-width="1.05" stroke-dasharray="8.5 2.6" fill="none"/>
<circle cx="295.0" cy="439.2" r="1.6" fill="#111"/>
<circle cx="463.3" cy="439.2" r="1.6" fill="#111"/>
<circle cx="631.3" cy="439.3" r="1.6" fill="#111"/>
<circle cx="801.7" cy="439.6" r="1.6" fill="#111"/>
<circle cx="682.4" cy="334" r="1.3" fill="#f5e64a"/>
<path d="M944.4,339 Q962,336 980,334" stroke="#efe25e" stroke-width="1.3" fill="none"/><path d="M944.4,339 Q962,336 980,334" stroke="#2b2922" stroke-width="1.05" stroke-dasharray="8.5 2.6" fill="none"/>
<path d="M943.9,438.1 Q962,441.6 980,444.2" stroke="#efe25e" stroke-width="1.3" fill="none"/><path d="M943.9,438.1 Q962,441.6 980,444.2" stroke="#2b2922" stroke-width="1.05" stroke-dasharray="8.5 2.6" fill="none"/>
<text class="bl" transform="translate(573.2,312.2) rotate(-90)" textLength="80.6" lengthAdjust="spacingAndGlyphs">Complex Oakland</text>
<text class="bl" transform="translate(599.8,312.2) rotate(-90)" textLength="71.4" lengthAdjust="spacingAndGlyphs">14 Street Market</text>
<text class="bl" transform="translate(629.4,312.2) rotate(-90)" textLength="52.2" lengthAdjust="spacingAndGlyphs">Golden Bull</text>
<text class="bl" transform="translate(654.4,312.2) rotate(-90)" textLength="69" lengthAdjust="spacingAndGlyphs">Downtown Deli</text>
<text class="bl" transform="translate(686,312.2) rotate(-90)" textLength="95.6" lengthAdjust="spacingAndGlyphs">Geoffrey's Inner Circle</text>
<text class="bl" transform="translate(707,312.2) rotate(-90)" textLength="133" lengthAdjust="spacingAndGlyphs">Benny Adem Grooming Parlor</text>
<text class="bl" transform="translate(732.4,312.2) rotate(-90)" textLength="94.4" lengthAdjust="spacingAndGlyphs">Joyce Gordon Gallery</text>
<text class="bl" transform="translate(759.2,312.2) rotate(-90)" textLength="83" lengthAdjust="spacingAndGlyphs">Moods Beauty Bar</text>
<text class="bl" transform="translate(787.6,312.2) rotate(-90)" textLength="54.6" lengthAdjust="spacingAndGlyphs">Oakland Ink</text>
<text x="966" y="489.6" font-size="8.6" font-style="italic" fill="#d0d0d0">Athen</text>
<g transform="translate(55.2,194.6) rotate(-25) scale(1.12)"><path d="M0,0 L4.4,9.6 L1.5,8.4 L1.5,11.2 L-1.5,11.2 L-1.5,8.4 L-4.4,9.6 Z M-1.5,12.4 H1.5 V16.4 H-1.5 Z" fill="#16130f"/><text x="-4.8" y="26.8" font-size="10.8" font-weight="bold" fill="#16130f" stroke="#16130f" stroke-width="0.5">N</text></g>
<text transform="translate(226.4,298.4) rotate(-90)" font-size="14.2" font-weight="bold" fill="#fff" fill-opacity="0.93" textLength="75.5" lengthAdjust="spacingAndGlyphs">Broadway</text>
</g>
<rect x="45.3" y="185.2" width="933.2" height="367.8" fill="none" stroke="#86868a" stroke-width="0.9"/>
</g>
<g id="callouts">
<path d="M315.4,253.7 L330.6,335.4" stroke="#262626" stroke-width="0.9" fill="none" marker-end="url(#ah)"/>
<rect x="271.4" y="207" width="156.3" height="46.7" fill="#e6f2fc" stroke="#9bb0c0" stroke-width="1" filter="url(#sh)"/>
<text class="co" x="279.9" y="226.4" textLength="135" lengthAdjust="spacingAndGlyphs">Begin “String of Lights”</text>
<text class="co" x="279.9" y="246.2" textLength="139" lengthAdjust="spacingAndGlyphs">(from Broadway to Oak)</text>
<path d="M957.2,278.6 L938.4,324.6" stroke="#262626" stroke-width="0.9" fill="none" marker-end="url(#ah)"/>
<rect x="872.8" y="212" width="121.2" height="66.6" fill="#e6f2fc" stroke="#9bb0c0" stroke-width="1" filter="url(#sh)"/>
<text class="co" x="880.6" y="232" textLength="80.5" lengthAdjust="spacingAndGlyphs">Updated curb</text>
<text class="co" x="880.6" y="252" textLength="57" lengthAdjust="spacingAndGlyphs">ramps for</text>
<text class="co" x="880.6" y="271.9" textLength="105.2" lengthAdjust="spacingAndGlyphs">wheelchair access</text>
<path d="M320.2,491.5 L345,420.4" stroke="#262626" stroke-width="0.9" fill="none" marker-end="url(#ah)"/>
<rect x="271.4" y="491.5" width="156.3" height="46.9" fill="#e6f2fc" stroke="#9bb0c0" stroke-width="1" filter="url(#sh)"/>
<text class="co" x="279.9" y="510.6" textLength="137.4" lengthAdjust="spacingAndGlyphs">Concrete barrier islands</text>
<text class="co" x="279.9" y="530.6" textLength="107.5" lengthAdjust="spacingAndGlyphs">with low plantings</text>
<path d="M636.2,495.7 L663.4,431" stroke="#262626" stroke-width="0.9" fill="none" marker-end="url(#ah)"/>
<rect x="487.4" y="495.7" width="177.0" height="47.1" fill="#e6f2fc" stroke="#9bb0c0" stroke-width="1" filter="url(#sh)"/>
<text class="co" x="496" y="515" textLength="152.3" lengthAdjust="spacingAndGlyphs">Bike lanes separated from</text>
<text class="co" x="496" y="535" textLength="159.5" lengthAdjust="spacingAndGlyphs">traffic with concrete barrier</text>
<path d="M782,495.2 L810.4,376" stroke="#262626" stroke-width="0.9" fill="none" marker-end="url(#ah)"/>
<rect x="695.7" y="495.2" width="175.6" height="86.5" fill="#e6f2fc" stroke="#9bb0c0" stroke-width="1" filter="url(#sh)"/>
<text class="co" x="703" y="514" textLength="140.8" lengthAdjust="spacingAndGlyphs">Concrete islands reduce</text>
<text class="co" x="703" y="533.9" textLength="134" lengthAdjust="spacingAndGlyphs">pedestrian exposure to</text>
<text class="co" x="703" y="553.9" textLength="152.6" lengthAdjust="spacingAndGlyphs">motor vehicle traffic while</text>
<text class="co" x="703" y="574.2" textLength="108.6" lengthAdjust="spacingAndGlyphs">crossing the street</text>
</g>
<g id="oaktree">
<path d="M734.6,54.4 C733.4,47 736.6,40 742.6,35 C748.6,30 755,27 761.4,27 C768,27 774.6,30 780.4,35 C786,40 789,47 787.8,54.8 C781,51 772,47.6 765.6,47.4 C765.2,52 765.4,56 765.8,60 H756.4 C756.8,56 757,52 756.6,47.4 C750,47.6 741.6,51 734.6,54.4 Z" fill="#848484"/>
<path d="M760.7,46.3 Q758.1,34.6 758.4,27.2 M759.3,34.5 L756.1,27.8 M759.1,44.7 Q754.7,34.5 753.8,28.0 M756.7,43.5 Q751.1,35.0 749.5,29.5 M752.2,34.8 L747.5,30.8 M758.3,46.9 Q749.6,38.2 745.5,31.7 M755.8,46.1 Q746.4,39.5 742.0,34.5 M747.2,38.9 L740.6,36.2 M752.7,45.8 Q743.2,41.3 739.1,37.8 M756.8,48.3 Q743.8,44.7 736.9,41.4 M744.4,44.0 L736.3,43.5 M753.9,48.4 Q741.4,47.2 735.4,45.4 M751.1,49.2 Q739.5,50.0 734.8,49.5 M741.0,49.4 L735.1,51.6 M761.7,46.3 Q764.3,34.6 764.0,27.2 M763.1,34.5 L766.3,27.8 M763.3,44.7 Q767.7,34.5 768.6,28.0 M765.7,43.5 Q771.3,35.0 772.9,29.5 M770.2,34.8 L774.9,30.8 M764.1,46.9 Q772.8,38.2 776.9,31.7 M766.6,46.1 Q776.0,39.5 780.4,34.5 M775.2,38.9 L781.8,36.2 M769.7,45.8 Q779.2,41.3 783.3,37.8 M765.6,48.3 Q778.6,44.7 785.5,41.4 M778.0,44.0 L786.1,43.5 M768.5,48.4 Q781.0,47.2 787.0,45.4 M771.3,49.2 Q782.9,50.0 787.6,49.5 M781.4,49.4 L787.3,51.6" stroke="#fff" stroke-opacity="0.6" stroke-width="0.85" fill="none" stroke-linecap="round"/>
<path d="M743.6,47.6 q2.6,-2.6 5.6,-1.4 M773.6,46.2 q3,-1.2 5.6,1.4 M752,43.4 q1.6,-2 3.6,-1.6 M767,41.8 q2,-0.4 3.6,1.6 M748,39 q1.4,-1.6 3,-1.4 M771.4,37.6 q1.6,-0.2 3,1.4" stroke="#fff" stroke-opacity="0.7" stroke-width="1.3" fill="none" stroke-linecap="round"/>
<path d="M758.8,49 V60 M761.1,48 V60 M763.4,49 V60" stroke="#fff" stroke-opacity="0.4" stroke-width="0.6" fill="none"/>
</g>
</svg></body></html>
